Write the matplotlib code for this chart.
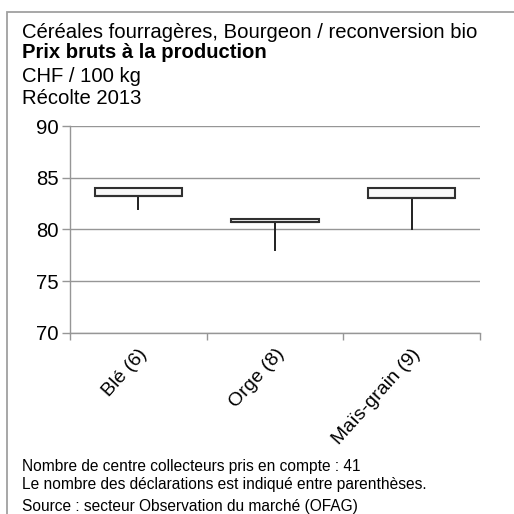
import matplotlib
matplotlib.use("Agg")
import matplotlib.pyplot as plt
from matplotlib.patches import Rectangle

categories = ["Blé (6)", "Orge (8)", "Maïs-grain (9)"]
mins = [82.0, 78.0, 80.0]
lows = [83.2, 80.7, 83.0]
highs = [84.0, 81.0, 84.0]
yticks = [70, 75, 80, 85, 90]

plt.rcParams['font.family'] = ['Liberation Sans', 'DejaVu Sans']

W = H = 514
fig = plt.figure(figsize=(W / 100, H / 100), dpi=100)

def fx(x):
    return x / W

def fy(y):
    return 1 - y / H

# outer frame
fig.patches.append(Rectangle((fx(7), fy(600)), 1.2, fy(12) - fy(600),
                             transform=fig.transFigure, fill=False,
                             edgecolor='#a0a0a0', linewidth=1.3))

ax = fig.add_axes([fx(70), fy(333), fx(480) - fx(70), fy(126) - fy(333)])

stats = []
for lab, mn, lo, hi in zip(categories, mins, lows, highs):
    stats.append(dict(label=lab, whislo=mn, q1=lo, med=lo, q3=hi, whishi=hi))

ax.bxp(stats, positions=[0, 1, 2], widths=0.64, showcaps=False, showfliers=False,
       patch_artist=True,
       boxprops=dict(facecolor='#f8f8f8', edgecolor='#303030', linewidth=1.5),
       whiskerprops=dict(color='#202020', linewidth=1.4),
       medianprops=dict(color='#303030', linewidth=1.5), zorder=3)

FS = 14.6
ax.set_xlim(-0.5, 2.5)
ax.set_ylim(70, 90)
ax.set_yticks(yticks)
ax.set_yticklabels([str(v) for v in yticks], fontsize=FS)
ax.yaxis.grid(True, color='#969696', linewidth=1.0)
ax.set_axisbelow(True)
for s in ['top', 'right']:
    ax.spines[s].set_visible(False)
for s in ['left', 'bottom']:
    ax.spines[s].set_color('#969696')
    ax.spines[s].set_linewidth(1.0)
ax.tick_params(axis='y', length=6, color='#969696', width=1.0, pad=2)

ax.set_xticks([0, 1, 2])
ax.set_xticklabels(categories, fontsize=14, rotation=48, ha='right',
                   va='top', rotation_mode='anchor')
ax.set_xticks([-0.5, 0.5, 1.5, 2.5], minor=True)
ax.tick_params(axis='x', which='major', length=0, pad=9)
ax.tick_params(axis='x', which='minor', length=5, color='#969696', width=1.0)

fig.text(fx(22), fy(32), "Céréales fourragères, Bourgeon / reconversion bio",
         fontsize=FS, va='center', ha='left')
fig.text(fx(22), fy(53), "Prix bruts à la production", fontsize=FS,
         fontweight='bold', va='center', ha='left')
fig.text(fx(22), fy(76), "CHF / 100 kg", fontsize=FS, va='center', ha='left')
fig.text(fx(22), fy(98), "Récolte 2013", fontsize=FS, va='center', ha='left')

FN = 11.2
fig.text(fx(22), fy(467), "Nombre de centre collecteurs pris en compte : 41",
         fontsize=FN, va='center', ha='left')
fig.text(fx(22), fy(485), "Le nombre des déclarations est indiqué entre parenthèses.",
         fontsize=FN, va='center', ha='left')
fig.text(fx(22), fy(507), "Source : secteur Observation du marché (OFAG)",
         fontsize=FN, va='center', ha='left')

fig.savefig("out.png", dpi=100)
